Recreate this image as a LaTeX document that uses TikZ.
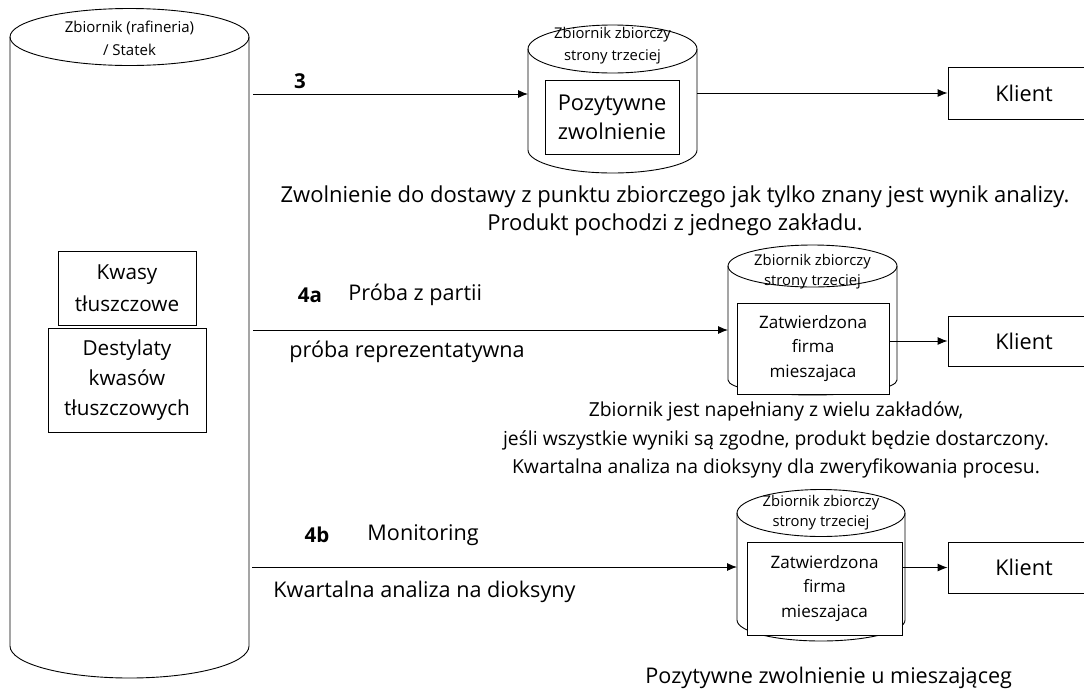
\documentclass[tikz,border=0pt]{standalone}
\usepackage{fontspec}
\setmainfont{Open Sans}
\usepackage{tikz}
\usetikzlibrary{shapes,arrows.meta,positioning}

\newcommand{\fs}[2]{\fontsize{#1}{#2}\selectfont}

\begin{document}
\begin{tikzpicture}[x=1pt, y=-1pt, line width=0.9pt, >={Latex[length=10pt,width=8pt]},
    txt/.style={align=center, inner sep=0pt},
    kbox/.style={draw, fill=white, align=center, inner sep=0pt},
    body/.style={inner sep=0pt, outer sep=0pt}]
\clip (0,0) rectangle (1084,689);

\draw (129.5,37) ellipse [x radius=119.5pt, y radius=28.5pt];
\draw (10,37) -- (10,646) arc [start angle=180, end angle=360, x radius=119.5pt, y radius=32pt] -- (249,37);
\node[txt, font=\fs{15}{23}] (zbiornik) at (129.5,38) {Zbiornik (rafineria)\\/ Statek};
\node[kbox, minimum width=138pt, minimum height=74pt, font=\fs{20.7}{32}] (kwasy) at (127,288) {Kwasy\\tłuszczowe};
\node[kbox, minimum width=158pt, minimum height=104pt, font=\fs{20.7}{30}] (destylaty) at (127,380) {Destylaty\\kwasów\\tłuszczowych};

\node[body, minimum width=169pt, minimum height=101pt] (zb3) at (612.5,99.5) {};
\draw (zb3.north) ellipse [x radius=84.5pt, y radius=24pt];
\draw (zb3.north west) -- (zb3.south west) arc [start angle=180, end angle=360, x radius=84.5pt, y radius=23pt] -- (zb3.north east);
\node[txt, font=\fs{14.8}{22}] (zb3t) at (612.5,46) {Zbiornik zbiorczy\\strony trzeciej};
\node[kbox, minimum width=134pt, minimum height=74pt, font=\fs{21.8}{29}] (poz) at (612,117) {Pozytywne\\zwolnienie};
\node[kbox, minimum width=152pt, minimum height=52pt, font=\fs{21.7}{23}] (klient3) at (1024,93) {Klient};
\coordinate (s3) at (253,94);
\node[txt, font=\bfseries\fs{20.5}{22}] (nr3) at (300,81) {3};
\draw [->] (s3) -- (s3 -| zb3.west);
\draw [->] (zb3.east |- klient3.west) -- (klient3.west);
\node[txt, font=\fs{22}{28.5}] (opis3) at (675,211) {Zwolnienie do dostawy z punktu zbiorczego jak tylko znany jest wynik analizy.\\Produkt pochodzi z jednego zakładu.};

\node[body, minimum width=169pt, minimum height=114pt] (zbA) at (812.5,323) {};
\draw (zbA.north) ellipse [x radius=84.5pt, y radius=21pt];
\draw (zbA.north west) -- (zbA.south west) arc [start angle=180, end angle=360, x radius=84.5pt, y radius=15pt] -- (zbA.north east);
\node[txt, font=\fs{14.8}{20}] (zbAt) at (812.5,272) {Zbiornik zbiorczy\\strony trzeciej};
\node[kbox, minimum width=152pt, minimum height=91pt, font=\fs{17.1}{24.5}] (firmaA) at (813,348.5) {Zatwierdzona\\firma\\mieszajaca};
\node[kbox, minimum width=152pt, minimum height=50pt, font=\fs{21.7}{23}] (klientA) at (1024,341) {Klient};
\coordinate (sA) at (253,330);
\node[txt, font=\bfseries\fs{20.5}{22}] (nrA) at (310,295) {4a};
\node[txt, anchor=west, font=\fs{21.6}{22}] (probaA) at (348,295) {Próba z partii};
\node[txt, anchor=west, font=\fs{21.6}{22}] (reprA) at (289,352) {próba reprezentatywna};
\draw [->] (sA) -- (sA -| zbA.west);
\draw [->] (firmaA.east |- klientA.west) -- (klientA.west);
\node[txt, font=\fs{19.3}{28.5}] (opisA) at (776,440) {Zbiornik jest napełniany z wielu zakładów,\\jeśli wszystkie wyniki są zgodne, produkt będzie dostarczony.\\Kwartalna analiza na dioksyny dla zweryfikowania procesu.};

\node[body, minimum width=168pt, minimum height=107pt] (zbB) at (821,566.5) {};
\draw (zbB.north) ellipse [x radius=84pt, y radius=23.5pt];
\draw (zbB.north west) -- (zbB.south west) arc [start angle=180, end angle=360, x radius=84pt, y radius=21pt] -- (zbB.north east);
\node[txt, font=\fs{14.8}{20}] (zbBt) at (821,513) {Zbiornik zbiorczy\\strony trzeciej};
\node[kbox, minimum width=155pt, minimum height=93pt, font=\fs{17.1}{24.5}] (firmaB) at (824.5,588.5) {Zatwierdzona\\firma\\mieszajaca};
\node[kbox, minimum width=152pt, minimum height=51pt, font=\fs{21.7}{23}] (klientB) at (1024,567.5) {Klient};
\coordinate (sB) at (252,567);
\node[txt, font=\bfseries\fs{20.5}{22}] (nrB) at (317,535) {4b};
\node[txt, anchor=west, font=\fs{21.6}{22}] (monB) at (367,535) {Monitoring};
\node[txt, anchor=west, font=\fs{21.6}{22}] (kwartB) at (273,592) {Kwartalna analiza na dioksyny};
\draw [->] (sB) -- (sB -| zbB.west);
\draw [->] (firmaB.east |- klientB.west) -- (klientB.west);
\node[txt, anchor=west, font=\fs{21.6}{22}] (opisB) at (645,678) {Pozytywne zwolnienie u mieszająceg};
\end{tikzpicture}
\end{document}
